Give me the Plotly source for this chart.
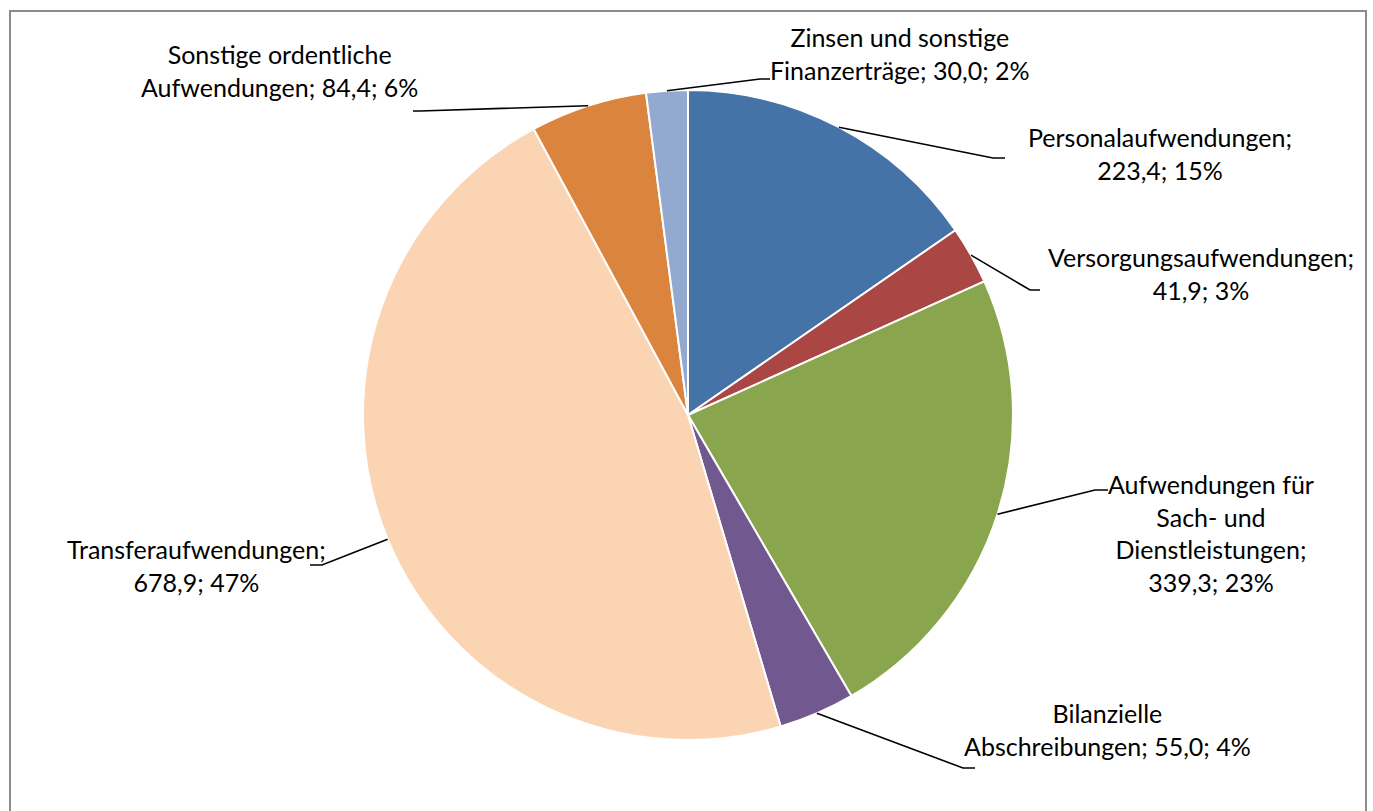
import math
import plotly.graph_objects as go

# ---- data ----
categories = [
    "Personalaufwendungen",
    "Versorgungsaufwendungen",
    "Aufwendungen für Sach- und Dienstleistungen",
    "Bilanzielle Abschreibungen",
    "Transferaufwendungen",
    "Sonstige ordentliche Aufwendungen",
    "Zinsen und sonstige Finanzerträge",
]
values = [223.4, 41.9, 339.3, 55.0, 678.9, 84.4, 30.0]
label_texts = [
    "Personalaufwendungen;<br>223,4; 15%",
    "Versorgungsaufwendungen;<br>41,9; 3%",
    "Aufwendungen für<br>Sach- und<br>Dienstleistungen;<br>339,3; 23%",
    "Bilanzielle<br>Abschreibungen; 55,0; 4%",
    "Transferaufwendungen;<br>678,9; 47%",
    "Sonstige ordentliche<br>Aufwendungen; 84,4; 6%",
    "Zinsen und sonstige<br>Finanzerträge; 30,0; 2%",
]
colors = ["#4572A7", "#AA4643", "#89A54E", "#71588F", "#FBD4B4", "#DB843D", "#93A9CF"]

# ---- layout (pixels) ----
W, H = 1373, 811
CX, CY, R = 688, 415, 325
# label text centre and leader elbow / end (pixels)
label_pos = [(1160, 153), (1201, 273), (1211, 533), (1107, 729), (196, 565), (279, 70), (900, 53)]
elbows = [
    ((993, 158), (1005, 158)),
    ((1030, 290), (1040, 290)),
    ((1095, 490), (1108, 490)),
    ((963, 768), (975, 768)),
    ((322, 565), (310, 565)),
    ((420, 111), (413, 111)),
    ((760, 79), (770, 79)),
]

def px(x):
    return x / W

def py(y):
    return 1 - y / H

fig = go.Figure(go.Pie(
    labels=categories,
    values=values,
    sort=False,
    direction="clockwise",
    rotation=0,
    marker=dict(colors=colors, line=dict(color="white", width=2)),
    textinfo="none",
    hoverinfo="label+value+percent",
    domain=dict(x=[px(CX - R), px(CX + R)], y=[py(CY + R), py(CY - R)]),
    showlegend=False,
))

total = sum(values)
shapes = []
annotations = []
cum = 0.0
for v, txt, (lx, ly), (e1, e2) in zip(values, label_texts, label_pos, elbows):
    mid = (cum + v / 2) / total * 2 * math.pi
    cum += v
    sx = CX + R * math.sin(mid)
    sy = CY - R * math.cos(mid)
    path = f"M {px(sx)},{py(sy)} L {px(e1[0])},{py(e1[1])} L {px(e2[0])},{py(e2[1])}"
    shapes.append(dict(type="path", xref="paper", yref="paper", path=path,
                       line=dict(color="black", width=1.6)))
    annotations.append(dict(x=px(lx), y=py(ly), xref="paper", yref="paper",
                            text=txt, showarrow=False, align="center",
                            xanchor="center", yanchor="middle",
                            font=dict(family="Lato", size=25, color="#000000")))

# outer chart border
shapes.append(dict(type="rect", xref="paper", yref="paper",
                   x0=px(10), x1=px(1366), y0=-0.05, y1=py(11),
                   line=dict(color="#8c8c8c", width=2), fillcolor="rgba(0,0,0,0)"))

fig.update_layout(
    width=W, height=H,
    margin=dict(l=0, r=0, t=0, b=0),
    paper_bgcolor="white",
    plot_bgcolor="white",
    shapes=shapes,
    annotations=annotations,
)

fig.write_html("out.html", config={"displayModeBar": False},
               post_script="document.body.style.margin='0';document.body.style.overflow='hidden';")
